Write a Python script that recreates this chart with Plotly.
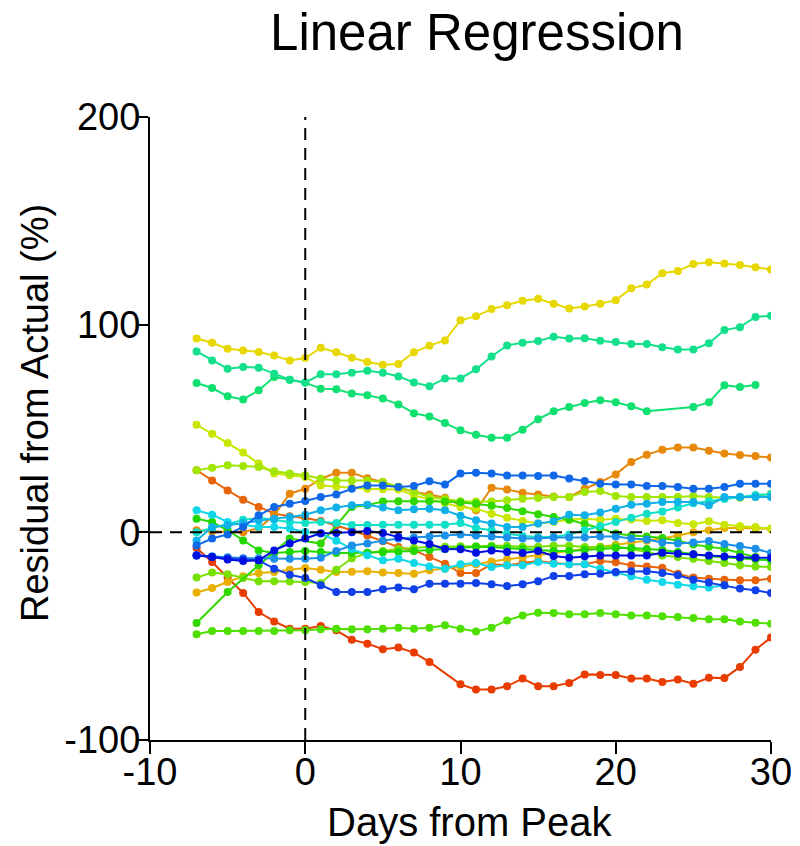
import plotly.graph_objects as go

days = list(range(-7, 31))

yellow = [93.3, 91.3, 88.4, 87.6, 86.8, 85.1, 82.8, 83.9, 88.9, 86.7, 84.1, 82.0, 80.7, 81.0, 86.7, 89.9, 92.4, 102.1, 104.1, 107.5, 109.4, 111.5, 112.5, 110.1, 107.8, 108.8, 110.1, 111.8, 117.5, 119.3, 124.8, 125.8, 129.2, 130.1, 129.5, 128.7, 127.6, 126.6]
teal_a = [87.1, 82.8, 78.8, 79.6, 79.3, 76.4, 73.5, 72.1, 76.1, 76.1, 76.9, 77.8, 76.9, 75.0, 72.2, 70.3, 74.1, 74.1, 78.5, 84.7, 90.0, 91.3, 92.1, 94.2, 93.3, 93.4, 92.3, 91.6, 90.7, 90.7, 89.1, 88.1, 88.1, 91.0, 97.4, 98.8, 103.7, 104.3]
green_b = [71.9, 69.5, 65.5, 64.0, 68.4, 74.8, 73.5, 72.1, 69.2, 68.9, 66.8, 66.0, 64.4, 61.6, 57.4, 55.8, 52.6, 49.1, 47.0, 45.6, 45.6, 49.4, 54.5, 58.3, 60.3, 62.3, 63.6, 62.6, 60.7, 58.3, None, None, 60.3, 62.6, 70.8, 70.0, 70.9, None]
yg1 = [51.8, 47.5, 43.0, 38.4, 33.1, 28.3, 27.5, 26.6, 22.6, 22.0, 21.5, 21.0, 20.8, 20.6, 17.8, 16.0, 14.0, 12.2, 11.4, 9.0, 7.0, 5.5, 4.2, 5.0, 6.0, 6.5, 6.0, 6.6, 6.2, 5.5, 5.8, 4.5, 3.9, 5.3, 3.7, 3.0, 2.6, 1.8]
lime1 = [29.9, 31.1, 32.3, 31.9, 31.5, 29.4, 28.3, 27.5, 25.8, 25.0, 25.0, 25.0, 24.2, 22.0, 19.5, 17.0, 16.0, 15.0, 14.9, 14.9, 15.5, 16.2, 16.5, 17.0, 17.0, 19.4, 19.9, 17.5, 17.0, 17.0, 17.0, 17.0, 17.5, 17.0, 16.7, 16.7, 17.3, 18.6]
orange1 = [29.9, 25.0, 20.2, 15.7, 12.2, 9.0, 7.7, 6.9, 5.5, 3.4, 1.0, -1.5, -4.3, -7.1, -8.7, -11.9, -15.1, -19.6, -19.6, -15.4, -15.9, -14.8, -13.8, -14.8, -15.4, -15.4, -13.8, -14.4, -15.9, -16.4, -17.0, -19.9, -21.8, -22.3, -22.8, -23.1, -23.1, -22.3]
orange2 = [1.0, 0.5, 0.2, 0.0, 2.1, 8.2, 18.6, 21.0, 25.8, 28.7, 28.7, 26.1, 24.2, 21.5, 19.5, 18.2, 16.7, 13.0, 10.6, 21.5, 20.6, 19.1, 18.2, 17.3, 17.0, 21.0, 24.2, 27.9, 33.9, 37.4, 39.8, 40.9, 40.8, 39.3, 38.0, 37.2, 36.7, 36.0]
red = [-7.5, -14.3, -21.8, -29.2, -38.4, -42.9, -46.4, -46.4, -45.1, -47.2, -51.7, -53.6, -56.3, -55.5, -57.9, -62.4, None, -73.2, -75.7, -75.7, -74.1, -70.4, -74.1, -74.1, -72.5, -68.4, -68.7, -68.7, -70.4, -70.4, -72.1, -70.9, -72.9, -70.0, -70.2, -64.8, -56.5, -50.7]
green1 = [-49.1, -47.5, -47.5, -47.5, -47.5, -47.5, -47.2, -47.2, -46.7, -46.4, -46.7, -46.7, -46.4, -45.9, -46.4, -45.9, -44.8, -46.4, -47.7, -45.9, -42.4, -40.0, -38.7, -38.8, -39.5, -39.5, -38.8, -39.5, -40.0, -40.0, -40.4, -40.8, -41.3, -41.9, -41.9, -42.9, -43.5, -44.0]
blue1 = [-6.3, -3.0, -1.0, 2.6, 8.2, 12.2, 13.8, 15.1, 17.0, 18.2, 21.0, 22.6, 22.6, 21.8, 22.3, 24.6, 23.0, 28.3, 28.7, 28.3, 27.4, 27.4, 27.1, 27.4, 25.9, 24.7, 23.4, 23.0, 23.0, 22.3, 22.3, 21.8, 21.0, 21.0, 21.8, 23.4, 23.4, 23.4]
dblue = [-11.1, -11.9, -13.1, -13.8, -13.5, -8.7, -5.4, -3.0, -0.5, -0.3, 0.1, 0.6, -0.3, -2.3, -3.9, -5.6, -8.0, -8.2, -9.8, -8.7, -9.5, -10.0, -9.0, -11.4, -12.2, -11.5, -11.1, -11.1, -11.1, -11.1, -9.8, -10.3, -10.6, -11.1, -11.6, -12.0, -12.2, -12.2]
blue2 = [-11.1, -11.9, -12.5, -13.0, -13.5, -17.5, -20.4, -22.0, -25.5, -28.7, -28.7, -28.7, -27.4, -26.6, -27.4, -24.7, -24.7, -24.7, -24.4, -25.0, -25.9, -25.0, -23.6, -21.0, -21.0, -20.2, -19.9, -19.1, -18.8, -18.8, -19.6, -20.7, -22.8, -24.2, -25.5, -27.1, -27.9, -29.2]
cyan1 = [10.6, 8.5, 5.0, 3.5, 2.6, 2.6, 1.8, 0.2, -0.6, -4.0, -8.0, -11.0, -13.5, -12.7, -14.8, -16.4, -17.5, -15.4, -14.8, -16.7, -15.9, -15.9, -14.3, -15.1, -15.4, -15.4, -17.5, -19.5, -21.2, -22.8, -23.9, -25.2, -26.0, -26.6, -25.5, None, None, None]
cblue = [-3.9, 2.6, 3.4, 4.5, 5.8, 6.6, 7.4, 8.5, 10.6, 12.0, 13.0, 13.3, 12.0, 10.6, 11.1, 11.4, 10.6, 8.0, 5.8, 4.2, 2.6, 2.6, 4.2, 5.3, 8.5, 8.2, 9.5, 11.4, 13.3, 13.8, 14.6, 14.6, 14.6, 13.0, 17.0, 17.0, 17.0, 17.0]
lblue = [-11.0, -11.5, -12.0, -12.5, -12.5, -12.7, -12.7, -12.7, -12.2, -9.0, -6.3, -5.4, -4.0, -3.0, -2.5, -2.0, -1.5, -1.0, -1.5, -2.0, -2.5, -3.0, -3.0, -2.5, -2.5, -2.5, -2.0, -2.0, -3.0, -3.5, -4.9, -5.4, -4.9, -4.2, -5.6, -6.6, -7.9, -10.0]
turq = [0.0, 2.0, 4.0, 6.0, 7.0, 6.0, 5.0, 4.5, 5.0, 4.5, 3.5, 3.5, 3.7, 3.7, 3.7, 3.7, 3.7, 4.5, 2.1, 1.0, -0.6, -1.8, -2.3, -2.3, -1.0, 1.0, 3.0, 5.0, 7.0, 9.0, 10.0, 12.0, 14.0, 15.0, 16.0, 17.0, 18.0, 18.3]
green2 = [-43.7, None, -28.7, None, -15.9, None, -3.0, None, -5.4, None, 12.2, 13.0, 14.9, 15.0, 15.0, 15.0, 14.9, 14.5, 13.8, 12.8, 11.7, 10.2, 8.7, 7.4, 6.1, 4.0, 2.0, -0.6, -1.5, -2.0, -2.7, -4.0, -5.9, -7.0, -7.9, -10.0, -11.9, None]
green3 = [6.6, 5.0, 1.0, -3.9, -8.7, -10.0, -9.5, -9.0, -9.5, -10.0, -10.0, -9.8, -9.6, -9.5, -9.0, -8.5, -8.0, -7.5, -7.0, -7.1, -7.5, -8.0, -8.5, -9.0, -9.0, -8.5, -8.0, -7.5, -7.5, -8.0, -8.5, -9.5, -10.5, -11.5, -12.0, -12.5, -13.0, -13.5]
lime2 = [-21.8, -19.4, -20.2, -22.0, -23.6, -23.6, -23.7, -23.9, -24.4, -18.0, -12.5, -10.0, -9.0, -8.0, -7.5, -7.0, -7.0, -6.7, -6.7, -6.5, -6.5, -7.0, -7.0, -6.5, -6.5, -7.1, -7.1, -6.7, -8.0, -9.5, -11.1, -11.9, -12.7, -13.8, -14.8, -15.9, -16.4, -16.7]
yorange = [-29.0, -26.8, -23.9, -21.2, -19.6, -19.1, -18.0, -17.2, -18.0, -19.1, -19.0, -18.8, -19.4, -19.6, -19.9, -18.3, -17.5, -16.4, -15.4, -14.0, -13.0, -12.0, -11.0, -10.0, -9.0, -8.0, -7.0, -6.0, -5.0, -4.0, -3.0, -1.5, 0.0, 1.0, 2.1, 2.1, 2.0, 1.5]

x_ticks = [-10, 0, 10, 20, 30]
x_ticktext = ['-10', '0', '10', '20', '30']
y_ticks = [-100, 0, 100, 200]
y_ticktext = ['-100', '0', '100', '200']

series = [
    (red, '#e83c00'), (orange1, '#e8640a'), (orange2, '#e8880a'), (yorange, '#e8b000'),
    (yellow, '#e6d800'), (yg1, '#c8e600'), (lime1, '#a0e600'), (lime2, '#78e000'),
    (green1, '#50e000'), (green2, '#30d800'), (green3, '#20d800'), (green_b, '#10e070'),
    (teal_a, '#14e08c'), (turq, '#10e0c8'), (cyan1, '#10d8e8'), (cblue, '#10b0e8'),
    (lblue, '#1a90e8'), (blue1, '#1068e8'), (blue2, '#1040e8'), (dblue, '#0010e0'),
]

fig = go.Figure()
for vals, col in series:
    fig.add_trace(go.Scatter(x=days, y=vals, mode='lines+markers', connectgaps=True,
                             line=dict(color=col, width=2), marker=dict(color=col, size=8),
                             showlegend=False, hoverinfo='skip'))

fig.add_shape(type='line', x0=0, x1=0, y0=-100, y1=200, xref='x', yref='y',
              line=dict(color='black', width=2, dash='12px,8px'), layer='above')
fig.add_shape(type='line', x0=-10, x1=30, y0=0, y1=0, xref='x', yref='y',
              line=dict(color='black', width=2, dash='12px,8px'), layer='above')

font = 'Liberation Sans, Arial, sans-serif'
fig.update_layout(
    width=800, height=846, plot_bgcolor='white', paper_bgcolor='white',
    margin=dict(l=150, r=29, t=117, b=106),
    font=dict(family=font, color='black', size=38),
    title=dict(text='Linear Regression', xref='paper', x=0.5266, xanchor='center',
               yref='container', y=0.962, yanchor='middle',
               font=dict(size=51, family=font, color='black')),
    xaxis=dict(range=[-10, 30], tickvals=x_ticks, ticktext=x_ticktext, showgrid=False, zeroline=False,
               showline=True, linecolor='black', linewidth=2, ticks='outside', ticklen=12,
               tickwidth=2, tickcolor='black', tickfont=dict(size=38), automargin=False,
               ticklabelstandoff=-15),
    yaxis=dict(range=[-100, 200], tickvals=y_ticks, ticktext=y_ticktext, showgrid=False, zeroline=False,
               showline=True, linecolor='black', linewidth=2, ticks='outside', ticklen=12,
               tickwidth=2, tickcolor='black', tickfont=dict(size=38), automargin=False,
               ticklabelstandoff=-12),
    annotations=[
        dict(text='Days from Peak', xref='paper', yref='paper', x=0.5153, y=-0.1316,
             xanchor='center', yanchor='middle', showarrow=False, font=dict(size=40)),
        dict(text='Residual from Actual (%)', xref='paper', yref='paper', x=-0.1852, y=0.5249,
             xanchor='center', yanchor='middle', textangle=-90, showarrow=False, font=dict(size=38)),
    ],
)

fig.write_html('out.html', config={'displayModeBar': False},
               post_script="document.body.style.margin='0';")
